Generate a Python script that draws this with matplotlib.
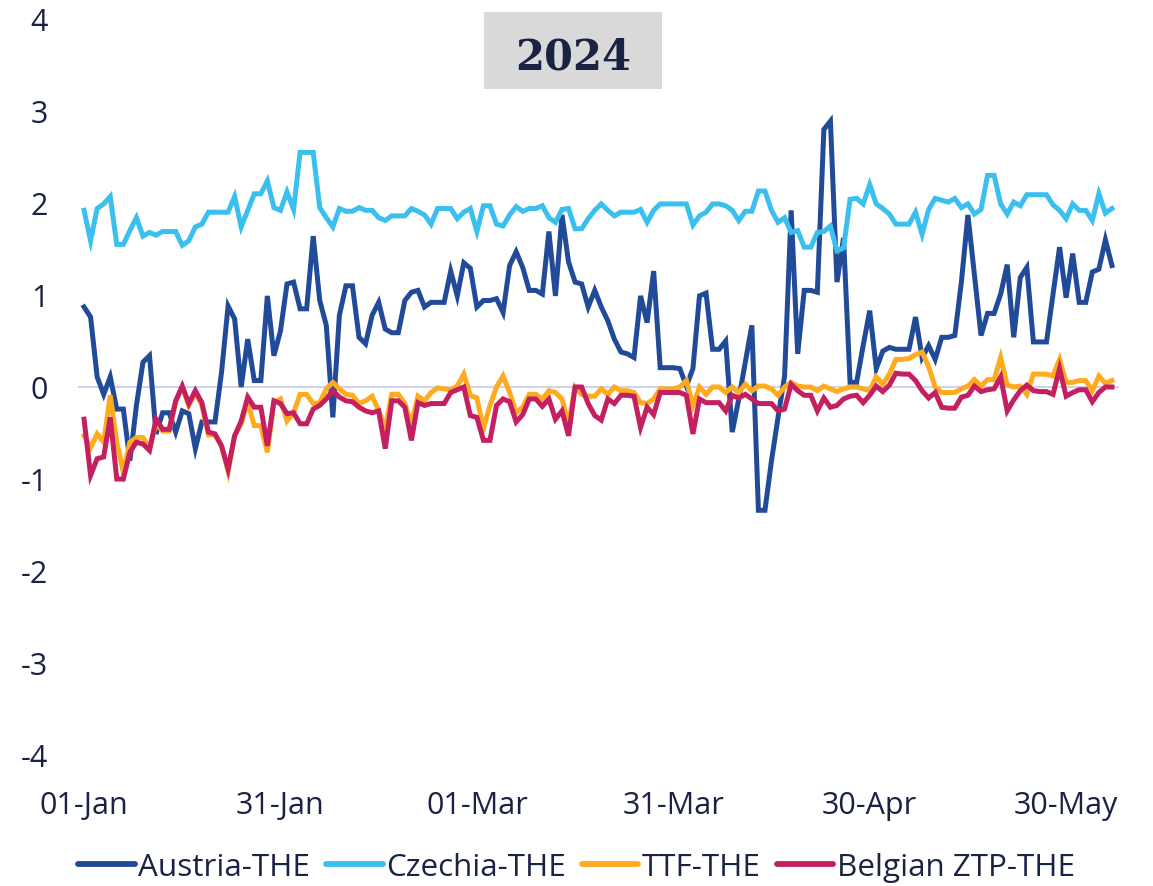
import matplotlib
matplotlib.use("Agg")
import matplotlib.pyplot as plt
import matplotlib.dates as mdates
from matplotlib.patches import Rectangle
import pandas as pd

plt.rcParams["font.family"] = ["Open Sans", "DejaVu Sans"]
plt.rcParams["axes.unicode_minus"] = False

# daily spreads vs THE, 01-Jan-2024 .. 06-Jun-2024
dates = pd.date_range("2024-01-01", periods=158, freq="D")

austria = [0.87, 0.76, 0.11, -0.08, 0.11, -0.24, -0.24, -0.80, -0.20, 0.27,
           0.34, -0.51, -0.28, -0.28, -0.49, -0.26, -0.29, -0.67, -0.38, -0.38,
           -0.38, 0.16, 0.88, 0.74, 0.00, 0.52, 0.07, 0.07, 0.99, 0.34,
           0.61, 1.12, 1.14, 0.85, 0.85, 1.64, 0.94, 0.67, -0.33, 0.78,
           1.10, 1.10, 0.54, 0.47, 0.78, 0.92, 0.63, 0.59, 0.59, 0.94,
           1.03, 1.05, 0.87, 0.92, 0.92, 0.92, 1.26, 0.99, 1.35, 1.29,
           0.87, 0.94, 0.94, 0.96, 0.81, 1.32, 1.47, 1.30, 1.05, 1.05,
           1.01, 1.69, 0.99, 1.87, 1.36, 1.14, 1.12, 0.87, 1.05, 0.87,
           0.72, 0.52, 0.38, 0.36, 0.32, 0.99, 0.70, 1.26, 0.21, 0.21,
           0.21, 0.20, 0.01, 0.20, 0.99, 1.02, 0.41, 0.41, 0.50, -0.49,
           -0.13, 0.27, 0.67, -1.34, -1.34, -0.80, -0.33, 0.12, 1.92, 0.36,
           1.05, 1.05, 1.03, 2.80, 2.89, 1.14, 1.62, 0.05, 0.05, 0.45,
           0.83, 0.20, 0.39, 0.43, 0.41, 0.41, 0.41, 0.76, 0.32, 0.45,
           0.30, 0.54, 0.54, 0.56, 1.14, 1.87, 1.21, 0.56, 0.80, 0.80,
           1.01, 1.33, 0.54, 1.19, 1.30, 0.49, 0.49, 0.49, 1.01, 1.52,
           0.97, 1.45, 0.92, 0.92, 1.25, 1.28, 1.60, 1.32]

czechia = [1.92, 1.59, 1.94, 1.99, 2.07, 1.55, 1.55, 1.70, 1.84, 1.64,
           1.68, 1.65, 1.69, 1.69, 1.69, 1.54, 1.59, 1.74, 1.77, 1.90,
           1.90, 1.90, 1.90, 2.07, 1.74, 1.92, 2.10, 2.10, 2.24, 1.95,
           1.92, 2.12, 1.93, 2.55, 2.55, 2.55, 1.95, 1.84, 1.74, 1.94,
           1.91, 1.91, 1.95, 1.92, 1.92, 1.84, 1.81, 1.86, 1.86, 1.86,
           1.94, 1.91, 1.87, 1.77, 1.94, 1.94, 1.94, 1.83, 1.90, 1.94,
           1.69, 1.97, 1.97, 1.77, 1.75, 1.87, 1.96, 1.91, 1.94, 1.94,
           1.97, 1.84, 1.79, 1.93, 1.94, 1.72, 1.72, 1.83, 1.92, 1.99,
           1.92, 1.86, 1.90, 1.90, 1.90, 1.93, 1.79, 1.92, 1.99, 1.99,
           1.99, 1.99, 1.99, 1.76, 1.86, 1.90, 1.99, 1.99, 1.97, 1.92,
           1.81, 1.91, 1.91, 2.13, 2.13, 1.92, 1.79, 1.84, 1.68, 1.70,
           1.52, 1.52, 1.68, 1.69, 1.75, 1.48, 1.51, 2.04, 2.05, 1.99,
           2.20, 1.99, 1.94, 1.88, 1.77, 1.77, 1.77, 1.90, 1.66, 1.93,
           2.05, 2.03, 2.01, 2.05, 1.95, 1.99, 1.88, 1.93, 2.30, 2.30,
           1.99, 1.88, 2.01, 1.97, 2.09, 2.09, 2.09, 2.09, 1.98, 1.92,
           1.83, 1.99, 1.92, 1.92, 1.81, 2.10, 1.89, 1.94]

ttf = [-0.53, -0.66, -0.51, -0.60, -0.09, -0.60, -0.93, -0.60, -0.55, -0.55,
       -0.66, -0.40, -0.48, -0.48, -0.16, 0.00, -0.20, -0.06, -0.20, -0.52,
       -0.52, -0.64, -0.92, -0.53, -0.40, -0.16, -0.42, -0.42, -0.71, -0.17,
       -0.13, -0.37, -0.28, -0.08, -0.08, -0.18, -0.17, -0.02, 0.05, -0.02,
       -0.08, -0.09, -0.18, -0.15, -0.10, -0.26, -0.45, -0.08, -0.08, -0.18,
       -0.40, -0.10, -0.15, -0.06, -0.01, -0.02, -0.03, 0.01, 0.14, -0.09,
       -0.12, -0.45, -0.20, 0.00, 0.12, -0.06, -0.28, -0.22, -0.08, -0.08,
       -0.13, -0.04, -0.06, -0.13, -0.40, 0.00, -0.08, -0.10, -0.10, -0.02,
       -0.08, 0.00, -0.04, -0.04, -0.06, -0.17, -0.18, -0.13, -0.02, -0.02,
       -0.02, 0.00, 0.07, -0.20, 0.00, -0.08, 0.00, 0.00, -0.06, 0.00,
       -0.06, 0.03, -0.04, 0.01, 0.01, -0.02, -0.09, 0.00, 0.05, 0.01,
       0.00, 0.00, -0.04, 0.01, -0.02, -0.05, -0.02, 0.00, 0.00, -0.02,
       -0.04, 0.11, 0.03, 0.14, 0.30, 0.30, 0.31, 0.35, 0.38, 0.22,
       0.00, -0.06, -0.06, -0.06, -0.02, 0.01, 0.08, 0.01, 0.08, 0.08,
       0.32, 0.02, 0.00, 0.01, -0.08, 0.14, 0.14, 0.14, 0.12, 0.30,
       0.05, 0.05, 0.07, 0.07, -0.04, 0.12, 0.04, 0.07]

ztp = [-0.35, -0.96, -0.78, -0.76, -0.33, -1.00, -1.00, -0.71, -0.60, -0.62,
       -0.69, -0.35, -0.46, -0.46, -0.15, 0.01, -0.18, -0.04, -0.17, -0.49,
       -0.51, -0.64, -0.89, -0.53, -0.37, -0.11, -0.22, -0.22, -0.64, -0.15,
       -0.18, -0.29, -0.28, -0.40, -0.40, -0.24, -0.20, -0.13, -0.04, -0.11,
       -0.15, -0.16, -0.22, -0.26, -0.28, -0.26, -0.67, -0.15, -0.15, -0.22,
       -0.58, -0.17, -0.20, -0.18, -0.18, -0.18, -0.06, -0.03, 0.00, -0.31,
       -0.33, -0.58, -0.58, -0.20, -0.13, -0.16, -0.38, -0.30, -0.13, -0.13,
       -0.21, -0.13, -0.35, -0.26, -0.53, 0.00, 0.00, -0.18, -0.31, -0.36,
       -0.13, -0.18, -0.09, -0.09, -0.10, -0.44, -0.22, -0.30, -0.06, -0.06,
       -0.06, -0.06, -0.09, -0.51, -0.13, -0.17, -0.17, -0.17, -0.26, -0.09,
       -0.12, -0.08, -0.13, -0.18, -0.18, -0.18, -0.26, -0.24, 0.03, -0.04,
       -0.09, -0.09, -0.26, -0.12, -0.22, -0.20, -0.13, -0.10, -0.09, -0.17,
       -0.09, 0.01, -0.05, 0.02, 0.15, 0.14, 0.14, 0.07, -0.04, -0.12,
       -0.06, -0.22, -0.23, -0.23, -0.11, -0.09, 0.01, -0.05, -0.03, -0.02,
       0.11, -0.26, -0.14, -0.04, 0.02, -0.04, -0.05, -0.05, -0.08, 0.20,
       -0.10, -0.06, -0.03, -0.03, -0.16, -0.06, 0.00, 0.00]

series = [("Austria-THE", austria, "#214a99"),
          ("Czechia-THE", czechia, "#3bbfee"),
          ("TTF-THE", ttf, "#ffab1f"),
          ("Belgian ZTP-THE", ztp, "#c41f60")]

text_col = "#1b2344"

fig = plt.figure(figsize=(11.53, 8.87), dpi=100)
ax = fig.add_axes([77.5/1153, 1-756/887, (1118.5-77.5)/1153, (756-20)/887])

ax.axhline(0, color="#d0d3ea", lw=1.5, zorder=1)
for name, vals, col in series:
    ax.plot(dates, vals, color=col, lw=3.6, label=name,
            solid_joinstyle="miter", zorder=2)

ax.set_ylim(-4, 4)
ax.set_yticks(range(-4, 5))
ax.set_xlim(dates[0] - pd.Timedelta(days=1), dates[-1] + pd.Timedelta(days=1))
ax.set_xticks(dates[::30])
ax.xaxis.set_major_formatter(mdates.DateFormatter("%d-%b"))

for s in ax.spines.values():
    s.set_visible(False)
ax.tick_params(axis="both", length=0, labelsize=22, labelcolor=text_col)
ax.tick_params(axis="y", pad=21)
ax.tick_params(axis="x", pad=25)

# title box
fig.patches.append(Rectangle((484/1153, 1-90/887), 178/1153, 77/887,
                             transform=fig.transFigure, facecolor="#d9d9d9",
                             edgecolor="none"))
fig.text(573/1153, 1-70/887, "2024", family="DejaVu Serif", weight="bold",
         fontsize=30, color=text_col, ha="center", va="baseline")

leg = fig.legend(loc="center", bbox_to_anchor=(0.5, 1-868/887), ncol=4,
                 frameon=False, fontsize=22.6, labelcolor=text_col,
                 handlelength=1.8, handletextpad=0.12, columnspacing=0.5,
                 borderpad=0)
for h in leg.get_lines():
    h.set_linewidth(4.2)
    h.set_solid_capstyle("round")

fig.savefig("out.png", dpi=100)
